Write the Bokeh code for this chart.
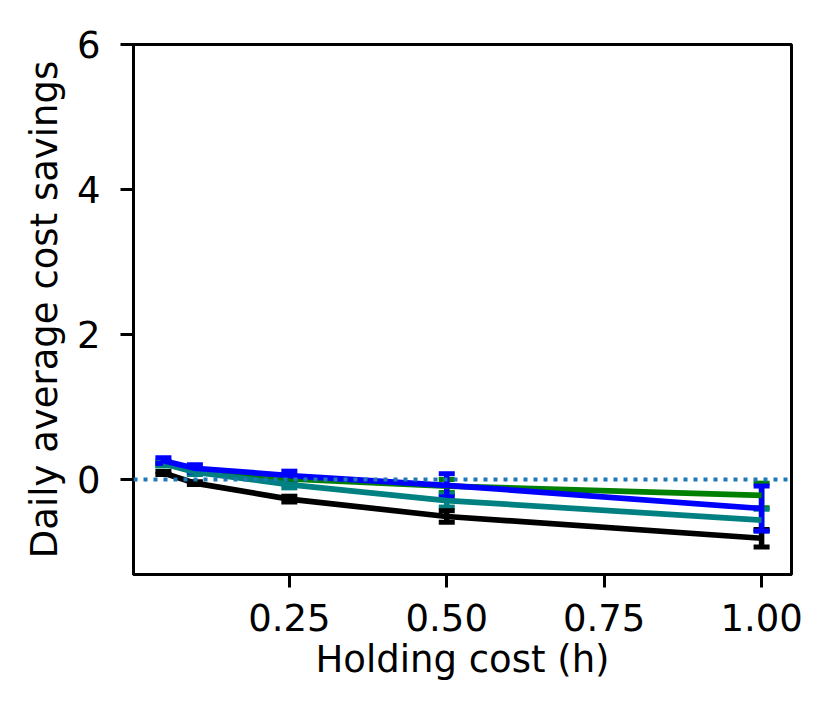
from bokeh.plotting import figure
from bokeh.models import Range1d, FixedTicker, Span
from bokeh.embed import file_html
from bokeh.resources import INLINE

# ---- data ----
holding_cost = [0.05, 0.1, 0.25, 0.5, 1.0]

green_vals = [0.22, 0.11, 0.01, -0.09, -0.22]
green_err = [0.03, 0.03, 0.04, 0.09, 0.17]

teal_vals = [0.22, 0.10, -0.07, -0.29, -0.56]
teal_err = [0.03, 0.03, 0.045, 0.09, 0.15]

black_vals = [0.09, -0.05, -0.27, -0.51, -0.81]
black_err = [0.02, 0.02, 0.04, 0.08, 0.12]

blue_vals = [0.26, 0.155, 0.055, -0.08, -0.40]
blue_err = [0.04, 0.05, 0.06, 0.16, 0.31]

x_ticks = [0.25, 0.5, 0.75, 1.0]
x_tick_labels = ["0.25", "0.50", "0.75", "1.00"]
y_ticks = [0, 2, 4, 6]

series = [
    ("green", green_vals, green_err),
    ("teal", teal_vals, teal_err),
    ("black", black_vals, black_err),
    ("blue", blue_vals, blue_err),
]

FONT = "DejaVu Sans"
FS = "37px"

p = figure(width=816, height=711, output_backend="svg", toolbar_location=None,
           x_range=Range1d(0.0025, 1.0475), y_range=Range1d(-1.31, 6.0),
           min_border_left=133, min_border_right=25, min_border_top=44, min_border_bottom=137)
p.background_fill_color = "white"
p.border_fill_color = "white"
p.grid.visible = False
p.outline_line_color = "black"
p.outline_line_width = 3

# zero reference line
p.add_layout(Span(location=0, dimension="width", line_color="#1f77b4",
                  line_width=3.8, line_dash="4 6"))

# error bars first (beneath lines)
for color, vals, errs in series:
    lo = [v - e for v, e in zip(vals, errs)]
    hi = [v + e for v, e in zip(vals, errs)]
    p.segment(x0=holding_cost, y0=lo, x1=holding_cost, y1=hi,
              line_color=color, line_width=5.5)
    p.scatter(x=holding_cost + holding_cost, y=lo + hi, marker="dash",
              size=16, line_color=color, line_width=5, fill_color=color)

for color, vals, errs in series:
    p.line(x=holding_cost, y=vals, line_color=color, line_width=5.7)

for ax in (p.xaxis[0], p.yaxis[0]):
    ax.axis_line_width = 3
    ax.major_tick_line_width = 3
    ax.major_tick_out = 13
    ax.major_tick_in = 0
    ax.minor_tick_line_color = None
    ax.major_label_text_font = FONT
    ax.major_label_text_font_size = FS
    ax.major_label_text_color = "black"
    ax.axis_label_text_font = FONT
    ax.axis_label_text_font_size = FS
    ax.axis_label_text_font_style = "normal"
    ax.axis_label_text_color = "black"

p.xaxis.major_label_standoff = 16
p.yaxis.major_label_standoff = 20
p.xaxis.ticker = FixedTicker(ticks=x_ticks)
p.xaxis.major_label_overrides = {t: l for t, l in zip(x_ticks, x_tick_labels)}
p.yaxis.ticker = FixedTicker(ticks=y_ticks)
p.xaxis.axis_label = "Holding cost (h)"
p.yaxis.axis_label = "Daily average cost savings"
p.xaxis.axis_label_standoff = 4
p.yaxis.axis_label_standoff = 8

open("out.html", "w").write(file_html(p, INLINE))
